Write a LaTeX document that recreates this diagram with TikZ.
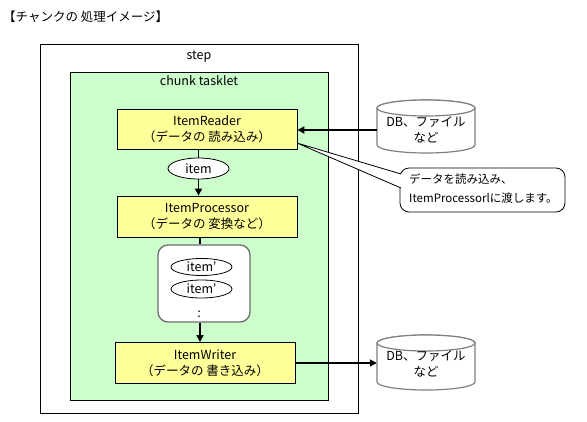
\documentclass[tikz,border=0pt]{standalone}
\usepackage{fontspec}
\setmainfont{Noto Sans CJK JP}
\usetikzlibrary{arrows.meta,shapes.geometric}
\definecolor{boxgreen}{HTML}{CCFFCC}
\definecolor{boxyellow}{HTML}{FFFF99}
\definecolor{cylgray}{HTML}{808080}
\begin{document}
\begin{tikzpicture}[x=1pt,y=-1pt,
  font=\fontsize{12.5}{15.5}\selectfont,
  frame/.style={draw=black, line width=0.8pt, inner sep=0pt},
  ybox/.style={draw=black, line width=0.8pt, fill=boxyellow, minimum width=180pt, minimum height=40pt, align=center, inner sep=0pt},
  oval/.style={draw=black, line width=0.8pt, fill=white, ellipse, inner sep=0pt},
  link/.style={line width=1.8pt},
  arr/.style={line width=1.8pt, -{Triangle[length=7pt,width=7pt]}},
  cyl/.style={draw=cylgray, line width=1.2pt, fill=white},
  lbl/.style={inner sep=0pt, align=center}
]
\useasboundingbox (0,0) rectangle (587,421);
\fill[white] (0,0) rectangle (587,421);

% title
\node[lbl, anchor=west] (title) at (3,17) {【チャンクの 処理イメージ】};

% step frame
\draw[frame] (40,44) rectangle (358,413);
\node[lbl] (steplbl) at (199,57) {step};
% chunk tasklet frame
\draw[frame, fill=boxgreen] (70,72) rectangle (328,400);
\node[lbl] (chunklbl) at (199,81) {chunk tasklet};

% boxes
\node[ybox] (reader) at (207,129) {ItemReader\\（データの 読み込み）};
\node[oval, minimum width=61pt, minimum height=21pt] (item) at (198.5,168.5) {item};
\node[ybox, minimum height=41pt] (proc) at (207,216.5) {ItemProcessor\\（データの 変換など）};
\node[draw=cylgray!85!black, line width=1.3pt, fill=white, rounded corners=10pt, minimum width=92pt, minimum height=77pt, inner sep=0pt] (buf) at (204,283.5) {};
\node[oval, minimum width=61pt, minimum height=17pt] (item1) at (201.5,267) {item’};
\node[oval, minimum width=61pt, minimum height=18pt] (item2) at (201.5,289) {item’};
\node[lbl] (dots) at (199,314) {:};
\node[ybox, minimum height=41pt] (writer) at (205,363) {ItemWriter\\（データの 書き込み）};

% vertical connectors
\draw[link] (reader.south -| item.north) -- (item.north);
\draw[arr] (item.south) -- (item.south |- proc.north);
\draw[link] (proc.south -| 200,0) -- (buf.north -| 200,0);
\draw[arr] (buf.south -| 200,0) -- (writer.north -| 200,0);

% cylinders
\draw[cyl] (377,108) -- (377,145) arc[start angle=180, end angle=0, x radius=49, y radius=8] -- (475,108) arc[start angle=0, end angle=-180, x radius=49, y radius=8] -- cycle;
\draw[cyl] (426,108) ellipse[x radius=49, y radius=8];
\node[lbl, minimum width=98pt, minimum height=30pt] (db1) at (426,130) {DB、ファイル\\など};

\draw[cyl] (377,343) -- (377,382) arc[start angle=180, end angle=0, x radius=49, y radius=8] -- (475,343) arc[start angle=0, end angle=-180, x radius=49, y radius=8] -- cycle;
\draw[cyl] (426,343) ellipse[x radius=49, y radius=8];
\node[lbl, minimum width=98pt, minimum height=30pt] (db2) at (426,364) {DB、ファイル\\など};

\draw[arr] (db1.west |- 0,130) -- (reader.east |- 0,130);
\draw[arr] (writer.east) -- (db2.west |- writer.east);

% callout
\coordinate (tip) at (297,143);
\draw[line width=0.8pt, fill=white, rounded corners=9pt] (400,168) rectangle (565,212);
\fill[white] (tip) -- (401,174) -- (401,188) -- cycle;
\draw[line width=0.8pt] (401,174) -- (tip) -- (401,188);
\node[lbl, anchor=west, align=left, font=\fontsize{11.5}{19}\selectfont] (note) at (409,189) {データを読み込み、\\ItemProcessorlに渡します。};
\end{tikzpicture}
\end{document}
